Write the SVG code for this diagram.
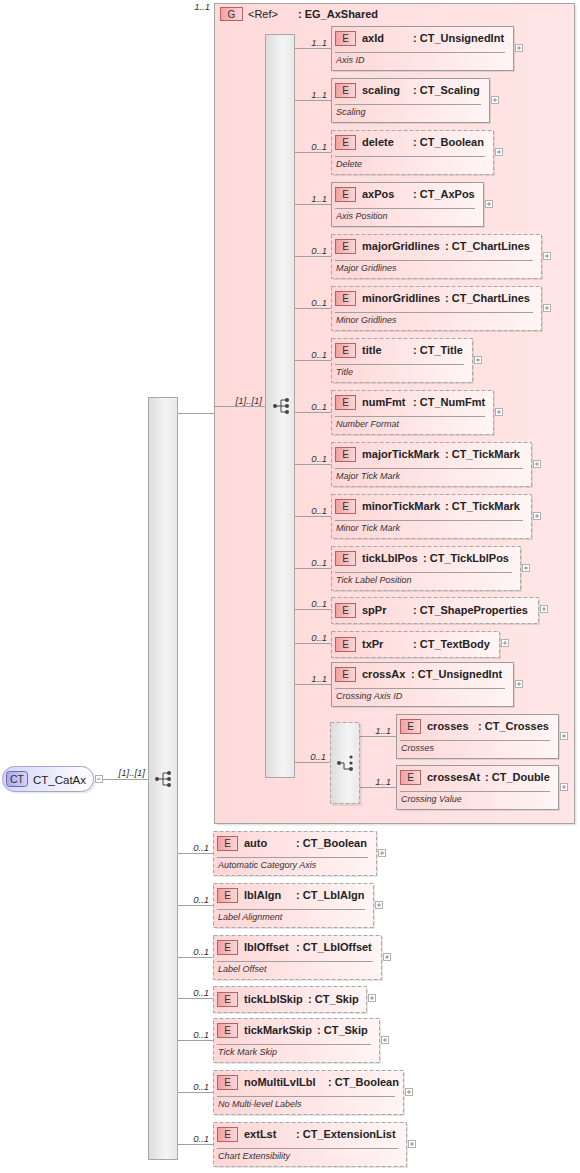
<svg xmlns="http://www.w3.org/2000/svg" width="580" height="1173" viewBox="0 0 580 1173">
<defs>
<linearGradient id="eg" x1="0" y1="0" x2="1" y2="0"><stop offset="0" stop-color="#FFD6D6"/><stop offset="1" stop-color="#FFF5F5"/></linearGradient>
<linearGradient id="gg" x1="0" y1="0" x2="1" y2="0"><stop offset="0" stop-color="#FFDADA"/><stop offset="1" stop-color="#FFE6E6"/></linearGradient>
<linearGradient id="bg" x1="0" y1="0" x2="1" y2="0"><stop offset="0" stop-color="#F0A0A0"/><stop offset="1" stop-color="#FCD8D8"/></linearGradient>
<linearGradient id="cg" x1="0" y1="0" x2="1" y2="0"><stop offset="0" stop-color="#DCDCDC"/><stop offset="0.6" stop-color="#F4F4F4"/><stop offset="1" stop-color="#E8E8E8"/></linearGradient>
<linearGradient id="ctg" x1="0" y1="0" x2="1" y2="0"><stop offset="0" stop-color="#D4D4FA"/><stop offset="1" stop-color="#FFFFFF"/></linearGradient>
<linearGradient id="ctb" x1="0" y1="0" x2="1" y2="0"><stop offset="0" stop-color="#A8A8EC"/><stop offset="1" stop-color="#D4D4FA"/></linearGradient>
<g id="seqIcon">
<path d="M-7 0H-1M-1 -6V6M-1 -6H5M-1 0H5M-1 6H5" stroke="#444" stroke-width="1" fill="none"/>
<circle cx="-7" cy="0" r="2" fill="#444"/>
<circle cx="5" cy="-6" r="2" fill="#444"/>
<circle cx="5" cy="0" r="2" fill="#444"/>
<circle cx="5" cy="6" r="2" fill="#444"/>
</g>
<g id="choiceIcon">
<path d="M-7 0H-2V6H4" stroke="#444" stroke-width="1" fill="none"/>
<circle cx="-7" cy="0" r="2" fill="#444"/>
<circle cx="5" cy="-6" r="1.6" fill="#444"/>
<circle cx="5" cy="0" r="1.6" fill="#444"/>
<circle cx="5" cy="6" r="2" fill="#444"/>
</g>
</defs>
<style>
.box{fill:url(#eg);stroke:#9C9C9C;stroke-width:1}
.opt{stroke-dasharray:4 2;stroke:#A8A8A8}
.sh{fill:#000;opacity:0.1}
.badge{fill:url(#bg);stroke:#B06464;stroke-width:1}
.bt{font-family:"Liberation Sans",Arial,sans-serif;font-size:10px;fill:#333;text-anchor:middle}
.nm{font-family:"Liberation Sans",Arial,sans-serif;font-size:11px;font-weight:bold;fill:#222}
.ds{font-family:"Liberation Sans",Arial,sans-serif;font-size:9px;font-style:italic;fill:#333}
.ml{font-family:"Liberation Sans",Arial,sans-serif;font-size:9.5px;font-style:italic;fill:#333;text-anchor:end}
.sep{stroke:#A0A0A0;stroke-width:1}
.cn{stroke:#A0A0A0;stroke-width:1;fill:none}
.pl{fill:#FFFFFF;stroke:#B0B0B0;stroke-width:1}
.pm{stroke:#909090;stroke-width:1;fill:none}
.comp{fill:url(#cg);stroke:#A8A8A8;stroke-width:1}
</style>
<rect width="580" height="1173" fill="#FFFFFF"/>

<g id="EG_AxShared">
<rect x="216.5" y="5.5" width="360" height="820" fill="#000" opacity="0.1"/>
<rect x="214.5" y="3.5" width="360" height="820" fill="url(#gg)" stroke="#A4A4A4" stroke-width="1"/>
<rect class="badge" x="220.5" y="7.5" width="22" height="13"/>
<text class="bt" x="231.5" y="18">G</text>
<text x="248" y="18" font-family="Liberation Sans, Arial, sans-serif" font-size="11" fill="#222">&lt;Ref&gt;</text>
<text class="nm" x="298" y="18">: EG_AxShared</text>
</g>

<g id="connectors">
<path class="cn" d="M103 779.5H148"/>
<path class="cn" d="M178 413.5H214"/>
<path class="cn" d="M214 406.5H265"/>
<path class="cn" d="M295 48.5H331M295 100.5H331M295 152.5H331M295 204.5H331M295 256.5H331M295 308.5H331M295 360.5H331M295 412.5H331M295 464.5H331M295 516.5H331M295 568.5H331M295 609.5H331M295 643.5H331M295 684.5H331M295 762.5H330"/>
<path class="cn" d="M360 736.5H396M360 787.5H396"/>
<path class="cn" d="M178 853.5H213M178 905.5H213M178 957.5H213M178 998.5H213M178 1040.5H213M178 1092.5H213M178 1144.5H213"/>
<text class="ml" x="145" y="776">[1]..[1]</text>
<text class="ml" x="262" y="404">[1]..[1]</text>
<text class="ml" x="210" y="10">1..1</text>
<text class="ml" x="327" y="46">1..1</text>
<text class="ml" x="327" y="98">1..1</text>
<text class="ml" x="327" y="150">0..1</text>
<text class="ml" x="327" y="202">1..1</text>
<text class="ml" x="327" y="254">0..1</text>
<text class="ml" x="327" y="306">0..1</text>
<text class="ml" x="327" y="358">0..1</text>
<text class="ml" x="327" y="410">0..1</text>
<text class="ml" x="327" y="462">0..1</text>
<text class="ml" x="327" y="514">0..1</text>
<text class="ml" x="327" y="566">0..1</text>
<text class="ml" x="327" y="607">0..1</text>
<text class="ml" x="327" y="641">0..1</text>
<text class="ml" x="327" y="682">1..1</text>
<text class="ml" x="326" y="760">0..1</text>
<text class="ml" x="391" y="734">1..1</text>
<text class="ml" x="391" y="785">1..1</text>
<text class="ml" x="209" y="851">0..1</text>
<text class="ml" x="209" y="903">0..1</text>
<text class="ml" x="209" y="955">0..1</text>
<text class="ml" x="209" y="996">0..1</text>
<text class="ml" x="209" y="1038">0..1</text>
<text class="ml" x="209" y="1090">0..1</text>
<text class="ml" x="209" y="1142">0..1</text>
</g>

<g id="CT_CatAx">
<rect x="4.5" y="768.5" width="91" height="25" rx="12" fill="#000" opacity="0.08"/>
<rect x="2.5" y="766.5" width="91" height="25" rx="12" fill="url(#ctg)" stroke="#A4A4CC" stroke-width="1"/>
<rect x="6.5" y="771.5" width="21" height="15" rx="3" fill="url(#ctb)" stroke="#6A6AAE" stroke-width="1"/>
<text x="17" y="783" font-family="Liberation Sans, Arial, sans-serif" font-size="10.5" fill="#333" text-anchor="middle">CT</text>
<text x="33" y="784" font-family="Liberation Sans, Arial, sans-serif" font-size="11.5" fill="#222">CT_CatAx</text>
<rect class="pl" x="95.5" y="775.5" width="7" height="7"/>
<path class="pm" d="M97 779H101"/>
</g>

<g id="mainSequence">
<rect class="comp" x="148.5" y="397.5" width="29" height="762"/>
<use href="#seqIcon" x="164" y="779"/>
</g>

<g id="innerSequence">
<rect class="comp" x="265.5" y="34.5" width="29" height="743"/>
<use href="#seqIcon" x="282" y="406"/>
</g>

<g id="axId">
<rect class="sh" x="333" y="28" width="182" height="44"/>
<rect class="box" x="331.5" y="26.5" width="182" height="44"/>
<rect class="badge" x="335.5" y="31.5" width="20" height="14"/>
<text class="bt" x="345.5" y="42">E</text>
<text class="nm" x="362" y="42">axId</text>
<text class="nm" x="413" y="42">: CT_UnsignedInt</text>
<line class="sep" x1="335" y1="52.5" x2="505" y2="52.5"/>
<text class="ds" x="336" y="63">Axis ID</text>
<rect class="pl" x="515.5" y="44.5" width="7" height="7"/>
<path class="pm" d="M517 48H521M519 46V50"/>
</g>

<g id="scaling">
<rect class="sh" x="333" y="80" width="158" height="44"/>
<rect class="box" x="331.5" y="78.5" width="158" height="44"/>
<rect class="badge" x="335.5" y="83.5" width="20" height="14"/>
<text class="bt" x="345.5" y="94">E</text>
<text class="nm" x="362" y="94">scaling</text>
<text class="nm" x="413" y="94">: CT_Scaling</text>
<line class="sep" x1="335" y1="104.5" x2="481" y2="104.5"/>
<text class="ds" x="336" y="115">Scaling</text>
<rect class="pl" x="491.5" y="96.5" width="7" height="7"/>
<path class="pm" d="M493 100H497M495 98V102"/>
</g>

<g id="delete">
<rect class="sh" x="333" y="132" width="162" height="44"/>
<rect class="box opt" x="331.5" y="130.5" width="162" height="44"/>
<rect class="badge" x="335.5" y="135.5" width="20" height="14"/>
<text class="bt" x="345.5" y="146">E</text>
<text class="nm" x="362" y="146">delete</text>
<text class="nm" x="413" y="146">: CT_Boolean</text>
<line class="sep" x1="335" y1="156.5" x2="485" y2="156.5"/>
<text class="ds" x="336" y="167">Delete</text>
<rect class="pl" x="495.5" y="148.5" width="7" height="7"/>
<path class="pm" d="M497 152H501M499 150V154"/>
</g>

<g id="axPos">
<rect class="sh" x="333" y="184" width="152" height="44"/>
<rect class="box" x="331.5" y="182.5" width="152" height="44"/>
<rect class="badge" x="335.5" y="187.5" width="20" height="14"/>
<text class="bt" x="345.5" y="198">E</text>
<text class="nm" x="362" y="198">axPos</text>
<text class="nm" x="413" y="198">: CT_AxPos</text>
<line class="sep" x1="335" y1="208.5" x2="475" y2="208.5"/>
<text class="ds" x="336" y="219">Axis Position</text>
<rect class="pl" x="485.5" y="200.5" width="7" height="7"/>
<path class="pm" d="M487 204H491M489 202V206"/>
</g>

<g id="majorGridlines">
<rect class="sh" x="333" y="236" width="210" height="44"/>
<rect class="box opt" x="331.5" y="234.5" width="210" height="44"/>
<rect class="badge" x="335.5" y="239.5" width="20" height="14"/>
<text class="bt" x="345.5" y="250">E</text>
<text class="nm" x="362" y="250">majorGridlines</text>
<text class="nm" x="445" y="250">: CT_ChartLines</text>
<line class="sep" x1="335" y1="260.5" x2="533" y2="260.5"/>
<text class="ds" x="336" y="271">Major Gridlines</text>
<rect class="pl" x="543.5" y="252.5" width="7" height="7"/>
<path class="pm" d="M545 256H549M547 254V258"/>
</g>

<g id="minorGridlines">
<rect class="sh" x="333" y="288" width="210" height="44"/>
<rect class="box opt" x="331.5" y="286.5" width="210" height="44"/>
<rect class="badge" x="335.5" y="291.5" width="20" height="14"/>
<text class="bt" x="345.5" y="302">E</text>
<text class="nm" x="362" y="302">minorGridlines</text>
<text class="nm" x="445" y="302">: CT_ChartLines</text>
<line class="sep" x1="335" y1="312.5" x2="533" y2="312.5"/>
<text class="ds" x="336" y="323">Minor Gridlines</text>
<rect class="pl" x="543.5" y="304.5" width="7" height="7"/>
<path class="pm" d="M545 308H549M547 306V310"/>
</g>

<g id="title">
<rect class="sh" x="333" y="340" width="141" height="44"/>
<rect class="box opt" x="331.5" y="338.5" width="141" height="44"/>
<rect class="badge" x="335.5" y="343.5" width="20" height="14"/>
<text class="bt" x="345.5" y="354">E</text>
<text class="nm" x="362" y="354">title</text>
<text class="nm" x="413" y="354">: CT_Title</text>
<line class="sep" x1="335" y1="364.5" x2="464" y2="364.5"/>
<text class="ds" x="336" y="375">Title</text>
<rect class="pl" x="474.5" y="356.5" width="7" height="7"/>
<path class="pm" d="M476 360H480M478 358V362"/>
</g>

<g id="numFmt">
<rect class="sh" x="333" y="392" width="162" height="44"/>
<rect class="box opt" x="331.5" y="390.5" width="162" height="44"/>
<rect class="badge" x="335.5" y="395.5" width="20" height="14"/>
<text class="bt" x="345.5" y="406">E</text>
<text class="nm" x="362" y="406">numFmt</text>
<text class="nm" x="413" y="406">: CT_NumFmt</text>
<line class="sep" x1="335" y1="416.5" x2="485" y2="416.5"/>
<text class="ds" x="336" y="427">Number Format</text>
<rect class="pl" x="495.5" y="408.5" width="7" height="7"/>
<path class="pm" d="M497 412H501M499 410V414"/>
</g>

<g id="majorTickMark">
<rect class="sh" x="333" y="444" width="200" height="44"/>
<rect class="box opt" x="331.5" y="442.5" width="200" height="44"/>
<rect class="badge" x="335.5" y="447.5" width="20" height="14"/>
<text class="bt" x="345.5" y="458">E</text>
<text class="nm" x="362" y="458">majorTickMark</text>
<text class="nm" x="445" y="458">: CT_TickMark</text>
<line class="sep" x1="335" y1="468.5" x2="523" y2="468.5"/>
<text class="ds" x="336" y="479">Major Tick Mark</text>
<rect class="pl" x="533.5" y="460.5" width="7" height="7"/>
<path class="pm" d="M535 464H539M537 462V466"/>
</g>

<g id="minorTickMark">
<rect class="sh" x="333" y="496" width="200" height="44"/>
<rect class="box opt" x="331.5" y="494.5" width="200" height="44"/>
<rect class="badge" x="335.5" y="499.5" width="20" height="14"/>
<text class="bt" x="345.5" y="510">E</text>
<text class="nm" x="362" y="510">minorTickMark</text>
<text class="nm" x="445" y="510">: CT_TickMark</text>
<line class="sep" x1="335" y1="520.5" x2="523" y2="520.5"/>
<text class="ds" x="336" y="531">Minor Tick Mark</text>
<rect class="pl" x="533.5" y="512.5" width="7" height="7"/>
<path class="pm" d="M535 516H539M537 514V518"/>
</g>

<g id="tickLblPos">
<rect class="sh" x="333" y="548" width="189" height="44"/>
<rect class="box opt" x="331.5" y="546.5" width="189" height="44"/>
<rect class="badge" x="335.5" y="551.5" width="20" height="14"/>
<text class="bt" x="345.5" y="562">E</text>
<text class="nm" x="362" y="562">tickLblPos</text>
<text class="nm" x="423" y="562">: CT_TickLblPos</text>
<line class="sep" x1="335" y1="572.5" x2="512" y2="572.5"/>
<text class="ds" x="336" y="583">Tick Label Position</text>
<rect class="pl" x="522.5" y="564.5" width="7" height="7"/>
<path class="pm" d="M524 568H528M526 566V570"/>
</g>

<g id="spPr">
<rect class="sh" x="333" y="599" width="207" height="26"/>
<rect class="box opt" x="331.5" y="597.5" width="207" height="26"/>
<rect class="badge" x="335.5" y="603.5" width="20" height="14"/>
<text class="bt" x="345.5" y="614">E</text>
<text class="nm" x="362" y="614">spPr</text>
<text class="nm" x="413" y="614">: CT_ShapeProperties</text>
<rect class="pl" x="540.5" y="605.5" width="7" height="7"/>
<path class="pm" d="M542 609H546M544 607V611"/>
</g>

<g id="txPr">
<rect class="sh" x="333" y="633" width="168" height="26"/>
<rect class="box opt" x="331.5" y="631.5" width="168" height="26"/>
<rect class="badge" x="335.5" y="637.5" width="20" height="14"/>
<text class="bt" x="345.5" y="648">E</text>
<text class="nm" x="362" y="648">txPr</text>
<text class="nm" x="413" y="648">: CT_TextBody</text>
<rect class="pl" x="501.5" y="639.5" width="7" height="7"/>
<path class="pm" d="M503 643H507M505 641V645"/>
</g>

<g id="crossAx">
<rect class="sh" x="333" y="664" width="182" height="44"/>
<rect class="box" x="331.5" y="662.5" width="182" height="44"/>
<rect class="badge" x="335.5" y="667.5" width="20" height="14"/>
<text class="bt" x="345.5" y="678">E</text>
<text class="nm" x="362" y="678">crossAx</text>
<text class="nm" x="411" y="678">: CT_UnsignedInt</text>
<line class="sep" x1="335" y1="688.5" x2="505" y2="688.5"/>
<text class="ds" x="336" y="699">Crossing Axis ID</text>
<rect class="pl" x="515.5" y="680.5" width="7" height="7"/>
<path class="pm" d="M517 684H521M519 682V686"/>
</g>

<g id="choice">
<rect x="332" y="724" width="30" height="82" fill="#000" opacity="0.08"/>
<rect class="comp opt" x="330.5" y="722.5" width="29" height="81"/>
<use href="#choiceIcon" x="346" y="763"/>
</g>

<g id="crosses">
<rect class="sh" x="398" y="716" width="162" height="44"/>
<rect class="box" x="396.5" y="714.5" width="162" height="44"/>
<rect class="badge" x="400.5" y="719.5" width="20" height="14"/>
<text class="bt" x="410.5" y="730">E</text>
<text class="nm" x="427" y="730">crosses</text>
<text class="nm" x="478" y="730">: CT_Crosses</text>
<line class="sep" x1="400" y1="740.5" x2="550" y2="740.5"/>
<text class="ds" x="401" y="751">Crosses</text>
<rect class="pl" x="560.5" y="732.5" width="7" height="7"/>
<path class="pm" d="M562 736H566M564 734V738"/>
</g>

<g id="crossesAt">
<rect class="sh" x="398" y="767" width="162" height="44"/>
<rect class="box" x="396.5" y="765.5" width="162" height="44"/>
<rect class="badge" x="400.5" y="770.5" width="20" height="14"/>
<text class="bt" x="410.5" y="781">E</text>
<text class="nm" x="427" y="781">crossesAt</text>
<text class="nm" x="485" y="781">: CT_Double</text>
<line class="sep" x1="400" y1="791.5" x2="550" y2="791.5"/>
<text class="ds" x="401" y="802">Crossing Value</text>
<rect class="pl" x="560.5" y="783.5" width="7" height="7"/>
<path class="pm" d="M562 787H566M564 785V789"/>
</g>

<g id="auto">
<rect class="sh" x="215" y="833" width="163" height="44"/>
<rect class="box opt" x="213.5" y="831.5" width="163" height="44"/>
<rect class="badge" x="217.5" y="836.5" width="20" height="14"/>
<text class="bt" x="227.5" y="847">E</text>
<text class="nm" x="244" y="847">auto</text>
<text class="nm" x="296" y="847">: CT_Boolean</text>
<line class="sep" x1="217" y1="857.5" x2="368" y2="857.5"/>
<text class="ds" x="218" y="868">Automatic Category Axis</text>
<rect class="pl" x="378.5" y="849.5" width="7" height="7"/>
<path class="pm" d="M380 853H384M382 851V855"/>
</g>

<g id="lblAlgn">
<rect class="sh" x="215" y="885" width="160" height="44"/>
<rect class="box opt" x="213.5" y="883.5" width="160" height="44"/>
<rect class="badge" x="217.5" y="888.5" width="20" height="14"/>
<text class="bt" x="227.5" y="899">E</text>
<text class="nm" x="244" y="899">lblAlgn</text>
<text class="nm" x="296" y="899">: CT_LblAlgn</text>
<line class="sep" x1="217" y1="909.5" x2="365" y2="909.5"/>
<text class="ds" x="218" y="920">Label Alignment</text>
<rect class="pl" x="375.5" y="901.5" width="7" height="7"/>
<path class="pm" d="M377 905H381M379 903V907"/>
</g>

<g id="lblOffset">
<rect class="sh" x="215" y="937" width="168" height="44"/>
<rect class="box opt" x="213.5" y="935.5" width="168" height="44"/>
<rect class="badge" x="217.5" y="940.5" width="20" height="14"/>
<text class="bt" x="227.5" y="951">E</text>
<text class="nm" x="244" y="951">lblOffset</text>
<text class="nm" x="296" y="951">: CT_LblOffset</text>
<line class="sep" x1="217" y1="961.5" x2="373" y2="961.5"/>
<text class="ds" x="218" y="972">Label Offset</text>
<rect class="pl" x="383.5" y="953.5" width="7" height="7"/>
<path class="pm" d="M385 957H389M387 955V959"/>
</g>

<g id="tickLblSkip">
<rect class="sh" x="215" y="988" width="153" height="26"/>
<rect class="box opt" x="213.5" y="986.5" width="153" height="26"/>
<rect class="badge" x="217.5" y="992.5" width="20" height="14"/>
<text class="bt" x="227.5" y="1003">E</text>
<text class="nm" x="244" y="1003">tickLblSkip</text>
<text class="nm" x="308" y="1003">: CT_Skip</text>
<rect class="pl" x="368.5" y="994.5" width="7" height="7"/>
<path class="pm" d="M370 998H374M372 996V1000"/>
</g>

<g id="tickMarkSkip">
<rect class="sh" x="215" y="1020" width="166" height="44"/>
<rect class="box opt" x="213.5" y="1018.5" width="166" height="44"/>
<rect class="badge" x="217.5" y="1023.5" width="20" height="14"/>
<text class="bt" x="227.5" y="1034">E</text>
<text class="nm" x="244" y="1034">tickMarkSkip</text>
<text class="nm" x="317" y="1034">: CT_Skip</text>
<line class="sep" x1="217" y1="1044.5" x2="371" y2="1044.5"/>
<text class="ds" x="218" y="1055">Tick Mark Skip</text>
<rect class="pl" x="381.5" y="1036.5" width="7" height="7"/>
<path class="pm" d="M383 1040H387M385 1038V1042"/>
</g>

<g id="noMultiLvlLbl">
<rect class="sh" x="215" y="1072" width="190" height="44"/>
<rect class="box opt" x="213.5" y="1070.5" width="190" height="44"/>
<rect class="badge" x="217.5" y="1075.5" width="20" height="14"/>
<text class="bt" x="227.5" y="1086">E</text>
<text class="nm" x="244" y="1086">noMultiLvlLbl</text>
<text class="nm" x="328" y="1086">: CT_Boolean</text>
<line class="sep" x1="217" y1="1096.5" x2="395" y2="1096.5"/>
<text class="ds" x="218" y="1107">No Multi-level Labels</text>
<rect class="pl" x="405.5" y="1088.5" width="7" height="7"/>
<path class="pm" d="M407 1092H411M409 1090V1094"/>
</g>

<g id="extLst">
<rect class="sh" x="215" y="1124" width="193" height="44"/>
<rect class="box opt" x="213.5" y="1122.5" width="193" height="44"/>
<rect class="badge" x="217.5" y="1127.5" width="20" height="14"/>
<text class="bt" x="227.5" y="1138">E</text>
<text class="nm" x="244" y="1138">extLst</text>
<text class="nm" x="296" y="1138">: CT_ExtensionList</text>
<line class="sep" x1="217" y1="1148.5" x2="398" y2="1148.5"/>
<text class="ds" x="218" y="1159">Chart Extensibility</text>
<rect class="pl" x="408.5" y="1140.5" width="7" height="7"/>
<path class="pm" d="M410 1144H414M412 1142V1146"/>
</g>
</svg>
